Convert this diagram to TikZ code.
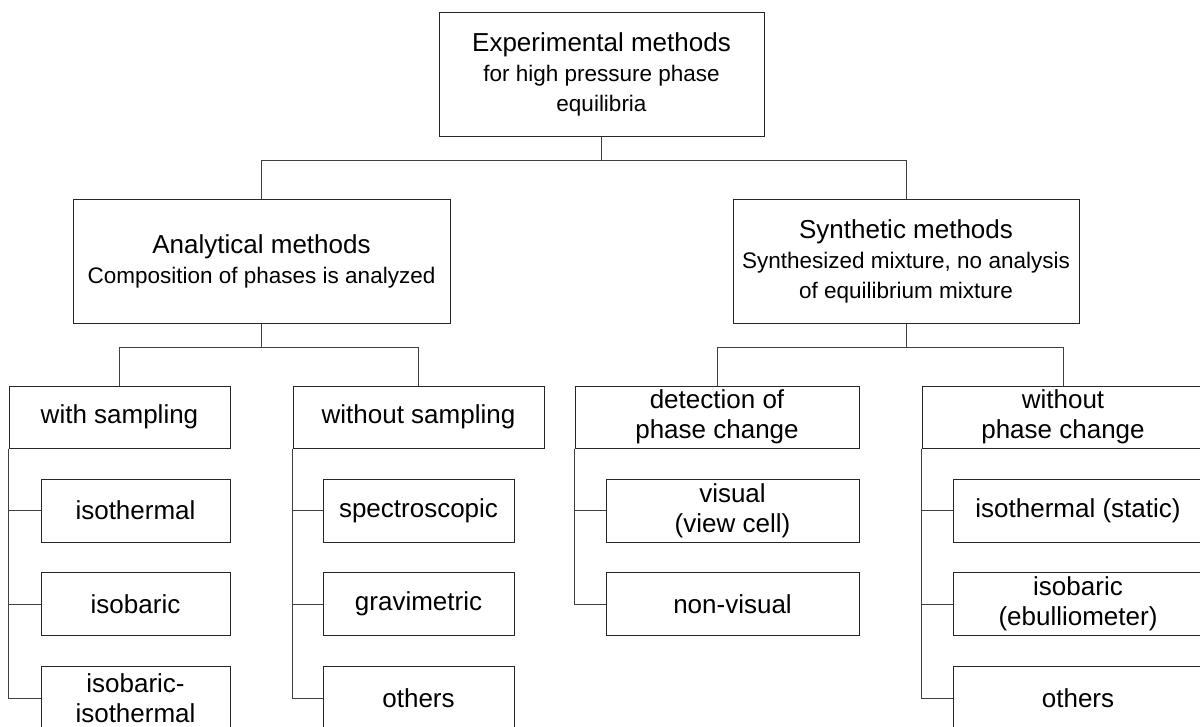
\documentclass[tikz,border=0pt]{standalone}
\usepackage{fontspec}
\setmainfont{Liberation Sans}
\tikzset{
	box/.style={draw=black!85, line width=1pt, align=center, inner sep=0pt, font=\fontsize{26}{30}\selectfont},
	head/.style={box, minimum height=62pt},
	leaf/.style={box, minimum height=63pt},
	conn/.style={draw=black!75, line width=1pt},
}
\newcommand{\subtext}{\fontsize{22.5}{28}\selectfont}

\begin{document}
\begin{tikzpicture}[x=1pt, y=-1pt]
	\useasboundingbox (0,0) rectangle (1200,726);

	\node[box, minimum width=325pt, minimum height=124pt] (exp) at (601.5,74) {Experimental methods\\ \subtext for high pressure phase\\ \subtext equilibria};
	\node[box, minimum width=377pt, minimum height=124pt] (ana) at (261.5,261) {Analytical methods\\ \subtext Composition of phases is analyzed};
	\node[box, minimum width=346pt, minimum height=124pt] (syn) at (906,261) {Synthetic methods\\ \subtext Synthesized mixture, no analysis\\ \subtext of equilibrium mixture};

	\node[head, minimum width=221pt] (ws) at (119.5,417) {with sampling};
	\node[head, minimum width=251pt] (wos) at (418.5,417) {without sampling};
	\node[head, minimum width=284pt] (det) at (717,417) {detection of\\phase change};
	\node[head, minimum width=282pt] (wopc) at (1063,417) {without\\phase change};

	\node[leaf, minimum width=189pt] (ws1) at (135.5,510.5) {isothermal};
	\node[leaf, minimum width=189pt] (ws2) at (135.5,604) {isobaric};
	\node[leaf, minimum width=189pt] (ws3) at (135.5,698) {isobaric-\\isothermal};
	\node[leaf, minimum width=191pt] (wos1) at (418.5,510.5) {spectroscopic};
	\node[leaf, minimum width=191pt] (wos2) at (418.5,604) {gravimetric};
	\node[leaf, minimum width=191pt] (wos3) at (418.5,698) {others};
	\node[leaf, minimum width=253pt] (det1) at (732.5,510.5) {visual\\(view cell)};
	\node[leaf, minimum width=253pt] (det2) at (732.5,604) {non-visual};
	\node[leaf, minimum width=250pt] (wopc1) at (1078,510.5) {isothermal (static)};
	\node[leaf, minimum width=250pt] (wopc2) at (1078,604) {isobaric\\(ebulliometer)};
	\node[leaf, minimum width=250pt] (wopc3) at (1078,698) {others};

	\draw[conn] (exp.south) -- ++(0,24) coordinate (exp-j);
	\draw[conn] (ana.north) |- (exp-j) -| (syn.north);
	\foreach \p/\a/\b in {ana/ws/wos, syn/det/wopc} {
		\draw[conn] (\p.south) -- ++(0,24) coordinate (\p-j);
		\draw[conn] (\a.north) |- (\p-j) -| (\b.north);
	}

	\foreach \h/\c in {ws/ws1, ws/ws2, ws/ws3, wos/wos1, wos/wos2, wos/wos3, det/det1, det/det2, wopc/wopc1, wopc/wopc2, wopc/wopc3}
		\draw[conn] (\h.south west) |- (\c.west);
\end{tikzpicture}
\end{document}
